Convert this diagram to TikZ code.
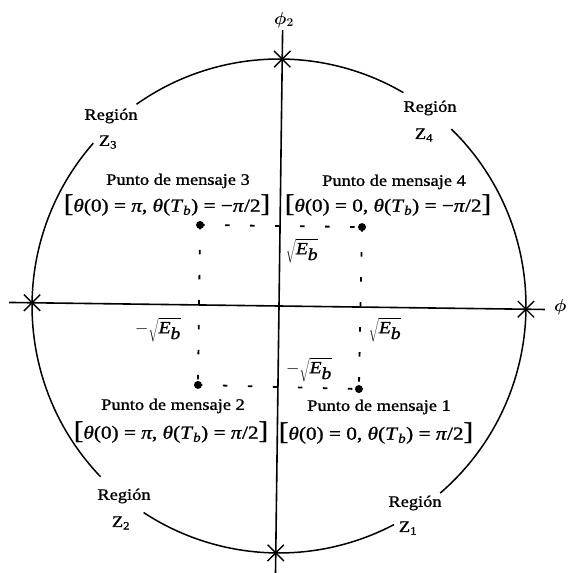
\documentclass[tikz,border=0pt]{standalone}
\usepackage{bm}
\usepackage{fontspec}
\setmainfont{Liberation Serif}[FakeStretch=1.15, FakeBold=1.2]
\usetikzlibrary{shapes.misc}
\newcommand\bigbrack[1]{{\fontsize{25}{25}\selectfont #1}}
\newcommand\rootEb{$\sqrt{\textit{E}_{\textit{b}}}$}
\begin{document}
\begin{tikzpicture}[x=1pt,y=1pt,
  lbl/.style={inner sep=0pt, font=\fontsize{16}{18}\selectfont},
  formula/.style={inner sep=0pt, font=\fontsize{18.5}{21}\selectfont},
  val/.style={inner sep=0pt, font=\fontsize{17}{19}\selectfont},
  xmark/.style={cross out, draw, line width=1.4pt, minimum size=15pt, inner sep=0pt},
  dot/.style={circle, fill, inner sep=0pt, minimum size=8pt},
  guide/.style={line width=1.8pt, dash pattern=on 4.5pt off 20.5pt},
  axisline/.style={line width=1.6pt},
  rim/.style={line width=1.5pt}]
\useasboundingbox (0,0) rectangle (568,573);
\coordinate (O) at (279,267);
\begin{scope}[shift={(O)}, rotate=-0.75]
  \coordinate (vb) at (0,-268);
  \coordinate (vt) at (0,276);
  \coordinate (hl) at (-270,0);
  \coordinate (hr) at (266,0);
  \draw[axisline] (vb) -- (vt);
  \draw[axisline] (hl) -- (hr);
  % circle arcs
  \draw[rim] (60.5:247) arc[start angle=60.5, end angle=126, radius=247];
  \draw[rim] (139.5:247) arc[start angle=139.5, end angle=224.5, radius=247];
  \draw[rim] (237.5:247) arc[start angle=237.5, end angle=298.5, radius=247];
  \draw[rim] (-48.5:247) arc[start angle=-48.5, end angle=46.5, radius=247];
  % crossings
  \node[xmark] (xt) at (0,247) {};
  \node[xmark] (xb) at (0,-247) {};
  \node[xmark] (xl) at (-247,0) {};
  \node[xmark] (xr) at (247,0) {};
  % message points
  \node[dot] (p3) at (-80,80) {};
  \node[dot] (p4) at (82,80) {};
  \node[dot] (p2) at (-80,-80) {};
  \node[dot] (p1) at (81,-82) {};
  \draw[guide] (p3.center) -- (p4.center);
  \draw[guide] (p3.center) -- (p2.center);
  \draw[guide] (p4.center) -- (p1.center);
  \draw[guide] (p2.center) -- (p1.center);
\end{scope}
% axis labels
\node[lbl] (phi2) at (284,553) {\fontsize{18}{20}\selectfont$\bm{\phi}_{\bm{2}}$};
\node[lbl, anchor=west] (phi1) at (554,266) {\fontsize{18}{20}\selectfont$\bm{\phi}$};
% regions
\node[lbl] (r3) at (111,457) {Región};
\node[lbl] (z3) at (108,431) {Z\textsubscript{3}};
\node[lbl] (r4) at (430,465) {Región};
\node[lbl] (z4) at (424,438) {Z\textsubscript{4}};
\node[lbl] (r2) at (124,77) {Región};
\node[lbl] (z2) at (121,50) {Z\textsubscript{2}};
\node[lbl] (r1) at (415,70) {Región};
\node[lbl] (z1) at (408,45) {Z\textsubscript{1}};
% message point labels
\node[lbl] (m3) at (178,392) {Punto de mensaje 3};
\node[formula] (f3) at (167,368) {\bigbrack{[}\textit{θ}(0) = \textit{π}, \textit{θ}(\textit{T}\textsubscript{\textit{b}}) = −\textit{π}/2\bigbrack{]}};
\node[lbl] (m4) at (394,391) {Punto de mensaje 4};
\node[formula] (f4) at (388,368) {\bigbrack{[}\textit{θ}(0) = 0, \textit{θ}(\textit{T}\textsubscript{\textit{b}}) = −\textit{π}/2\bigbrack{]}};
\node[lbl] (m2) at (173,167) {Punto de mensaje 2};
\node[formula] (f2) at (171,141) {\bigbrack{[}\textit{θ}(0) = \textit{π}, \textit{θ}(\textit{T}\textsubscript{\textit{b}}) = \textit{π}/2\bigbrack{]}};
\node[lbl] (m1) at (379,166) {Punto de mensaje 1};
\node[formula] (f1) at (376,140) {\bigbrack{[}\textit{θ}(0) = 0, \textit{θ}(\textit{T}\textsubscript{\textit{b}}) = \textit{π}/2\bigbrack{]}};
% coordinate values
\node[val] (v1) at (302,322) {\rootEb};
\node[val] (v2) at (158,243) {$-$\rootEb};
\node[val] (v3) at (385,243) {\rootEb};
\node[val] (v4) at (309,203) {$-$\rootEb};
\end{tikzpicture}
\end{document}
